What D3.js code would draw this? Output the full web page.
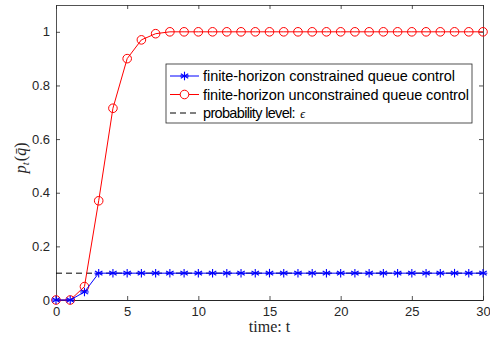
<!DOCTYPE html>
<html>
<head>
<meta charset="utf-8">
<script src="https://cdn.jsdelivr.net/npm/d3@7"></script>
<style>
	body { margin: 0; background: #fff; }
	text { font-family: "Liberation Sans", Arial, sans-serif; fill: #262626; }
	.serif { font-family: "Liberation Serif", "DejaVu Serif", serif; }
</style>
</head>
<body>
<div id="chart"></div>
<script>
// data
var times = d3.range(0, 31);
var constrained = [0, 0, 0.03].concat(d3.range(3, 31).map(function() { return 0.1; }));
var unconstrained = [0, 0, 0.05, 0.37, 0.715, 0.90, 0.97, 0.993].concat(d3.range(8, 31).map(function() { return 1; }));
var epsilon = 0.1;
var xTicks = [0, 5, 10, 15, 20, 25, 30];
var yTicks = [0, 0.2, 0.4, 0.6, 0.8, 1];
var legendLabels = ["finite-horizon constrained queue control", "finite-horizon unconstrained queue control", "probability level: "];

var _width = 490, _height = 345;
var margin = { top: 5, right: 7, bottom: 45, left: 56 };

var svg = d3.select("#chart").append("svg")
	.attr("width", _width)
	.attr("height", _height);

var x = d3.scaleLinear().domain([0, 30]).range([margin.left, _width - margin.right]);
var y = d3.scaleLinear().domain([0, 1.1]).range([_height - margin.bottom, margin.top]);

var axisColor = "#262626";

// axes (ticks inside, box on)
var gx = svg.append("g").attr("transform", "translate(0," + y(0) + ")")
	.call(d3.axisBottom(x).tickValues(xTicks).tickSizeInner(-4).tickSizeOuter(0).tickPadding(7));
var gxTop = svg.append("g").attr("transform", "translate(0," + y(1.1) + ")")
	.call(d3.axisTop(x).tickValues(xTicks).tickSizeInner(-4).tickSizeOuter(0).tickFormat(""));
var gy = svg.append("g").attr("transform", "translate(" + x(0) + ",0)")
	.call(d3.axisLeft(y).tickValues(yTicks).tickSizeInner(-4).tickSizeOuter(0).tickPadding(6).tickFormat(d3.format("~g")));
var gyRight = svg.append("g").attr("transform", "translate(" + x(30) + ",0)")
	.call(d3.axisRight(y).tickValues(yTicks).tickSizeInner(-4).tickSizeOuter(0).tickFormat(""));

[gx, gxTop, gy, gyRight].forEach(function(g) {
	g.selectAll("path").attr("stroke", axisColor).attr("stroke-width", 0.8);
	g.selectAll("line").attr("stroke", axisColor).attr("stroke-width", 0.8);
	g.selectAll("text").attr("fill", axisColor).style("font-size", "13px")
		.style("font-family", "Liberation Sans, Arial, sans-serif");
});
gx.select(".domain").attr("stroke-width", 1);

// axis labels
svg.append("text").attr("class", "serif")
	.attr("x", (x(0) + x(30)) / 2).attr("y", 332)
	.attr("text-anchor", "middle").style("font-size", "16px")
	.text("time:  t");

var yl = svg.append("text").attr("class", "serif")
	.attr("transform", "translate(26," + y(0.53) + ") rotate(-90)")
	.attr("text-anchor", "middle").style("font-size", "16px");
yl.append("tspan").style("font-style", "italic").text("p");
yl.append("tspan").style("font-style", "italic").style("font-size", "11px").attr("dy", 3).text("t");
yl.append("tspan").attr("dy", -3).attr("dx", 1).text("(");
yl.append("tspan").style("font-style", "italic").text("q\u0304");
yl.append("tspan").text(")");

// epsilon dashed line
svg.append("line")
	.attr("x1", x(0)).attr("x2", x(30))
	.attr("y1", y(epsilon)).attr("y2", y(epsilon))
	.attr("stroke", "#000").attr("stroke-width", 1).attr("stroke-dasharray", "6,4");

var line = d3.line()
	.x(function(d, i) { return x(times[i]); })
	.y(function(d) { return y(d); });

// unconstrained (red, circles)
svg.append("path").datum(unconstrained)
	.attr("d", line).attr("fill", "none").attr("stroke", "#ff0000").attr("stroke-width", 1);
svg.selectAll("circle.unc").data(unconstrained).enter().append("circle")
	.attr("class", "unc")
	.attr("cx", function(d, i) { return x(times[i]); })
	.attr("cy", function(d) { return y(d); })
	.attr("r", 4.3).attr("fill", "none").attr("stroke", "#ff0000").attr("stroke-width", 1);

// constrained (blue, asterisks)
svg.append("path").datum(constrained)
	.attr("d", line).attr("fill", "none").attr("stroke", "#0000ff").attr("stroke-width", 1);

function star(g, cx, cy, s, color) {
	var a = g.append("g").attr("transform", "translate(" + cx + "," + cy + ")");
	[0, 60, 120].forEach(function(ang) {
		var r = ang * Math.PI / 180;
		a.append("line")
			.attr("x1", -s * Math.sin(r)).attr("y1", -s * Math.cos(r))
			.attr("x2", s * Math.sin(r)).attr("y2", s * Math.cos(r))
			.attr("stroke", color).attr("stroke-width", 1.1);
	});
	a.append("line").attr("x1", -s).attr("x2", s).attr("y1", 0).attr("y2", 0)
		.attr("stroke", color).attr("stroke-width", 1.1);
}
var stars = svg.append("g");
constrained.forEach(function(d, i) { star(stars, x(times[i]), y(d), 4.3, "#0000ff"); });

// legend
var lg = svg.append("g");
lg.append("rect")
	.attr("x", 166).attr("y", 64).attr("width", 306).attr("height", 59)
	.attr("fill", "#fff").attr("stroke", axisColor).attr("stroke-width", 0.8);
var rowY = [76, 94.5, 113];
var rowLen = [252, 266, 96];
var sx1 = 170, sx2 = 199;
lg.append("line").attr("x1", sx1).attr("x2", sx2).attr("y1", rowY[0]).attr("y2", rowY[0])
	.attr("stroke", "#0000ff").attr("stroke-width", 1);
star(lg, (sx1 + sx2) / 2, rowY[0], 4.3, "#0000ff");
lg.append("line").attr("x1", sx1).attr("x2", sx2).attr("y1", rowY[1]).attr("y2", rowY[1])
	.attr("stroke", "#ff0000").attr("stroke-width", 1);
lg.append("circle").attr("cx", (sx1 + sx2) / 2).attr("cy", rowY[1]).attr("r", 4.3)
	.attr("fill", "#fff").attr("stroke", "#ff0000").attr("stroke-width", 1);
lg.append("line").attr("x1", sx1).attr("x2", sx2).attr("y1", rowY[2]).attr("y2", rowY[2])
	.attr("stroke", "#000").attr("stroke-width", 1).attr("stroke-dasharray", "6,4");

legendLabels.forEach(function(t, i) {
	var tx = lg.append("text").attr("x", 203).attr("y", rowY[i] + 5)
		.style("font-size", "14.5px").style("fill", "#000");
	tx.append("tspan").attr("textLength", rowLen[i]).attr("lengthAdjust", "spacing").text(t);
	if (i === 2) {
		tx.append("tspan").attr("class", "serif").attr("dx", 2).style("font-style", "italic")
			.style("font-size", "12px").text("\u03f5");
	}
});
</script>
</body>
</html>
